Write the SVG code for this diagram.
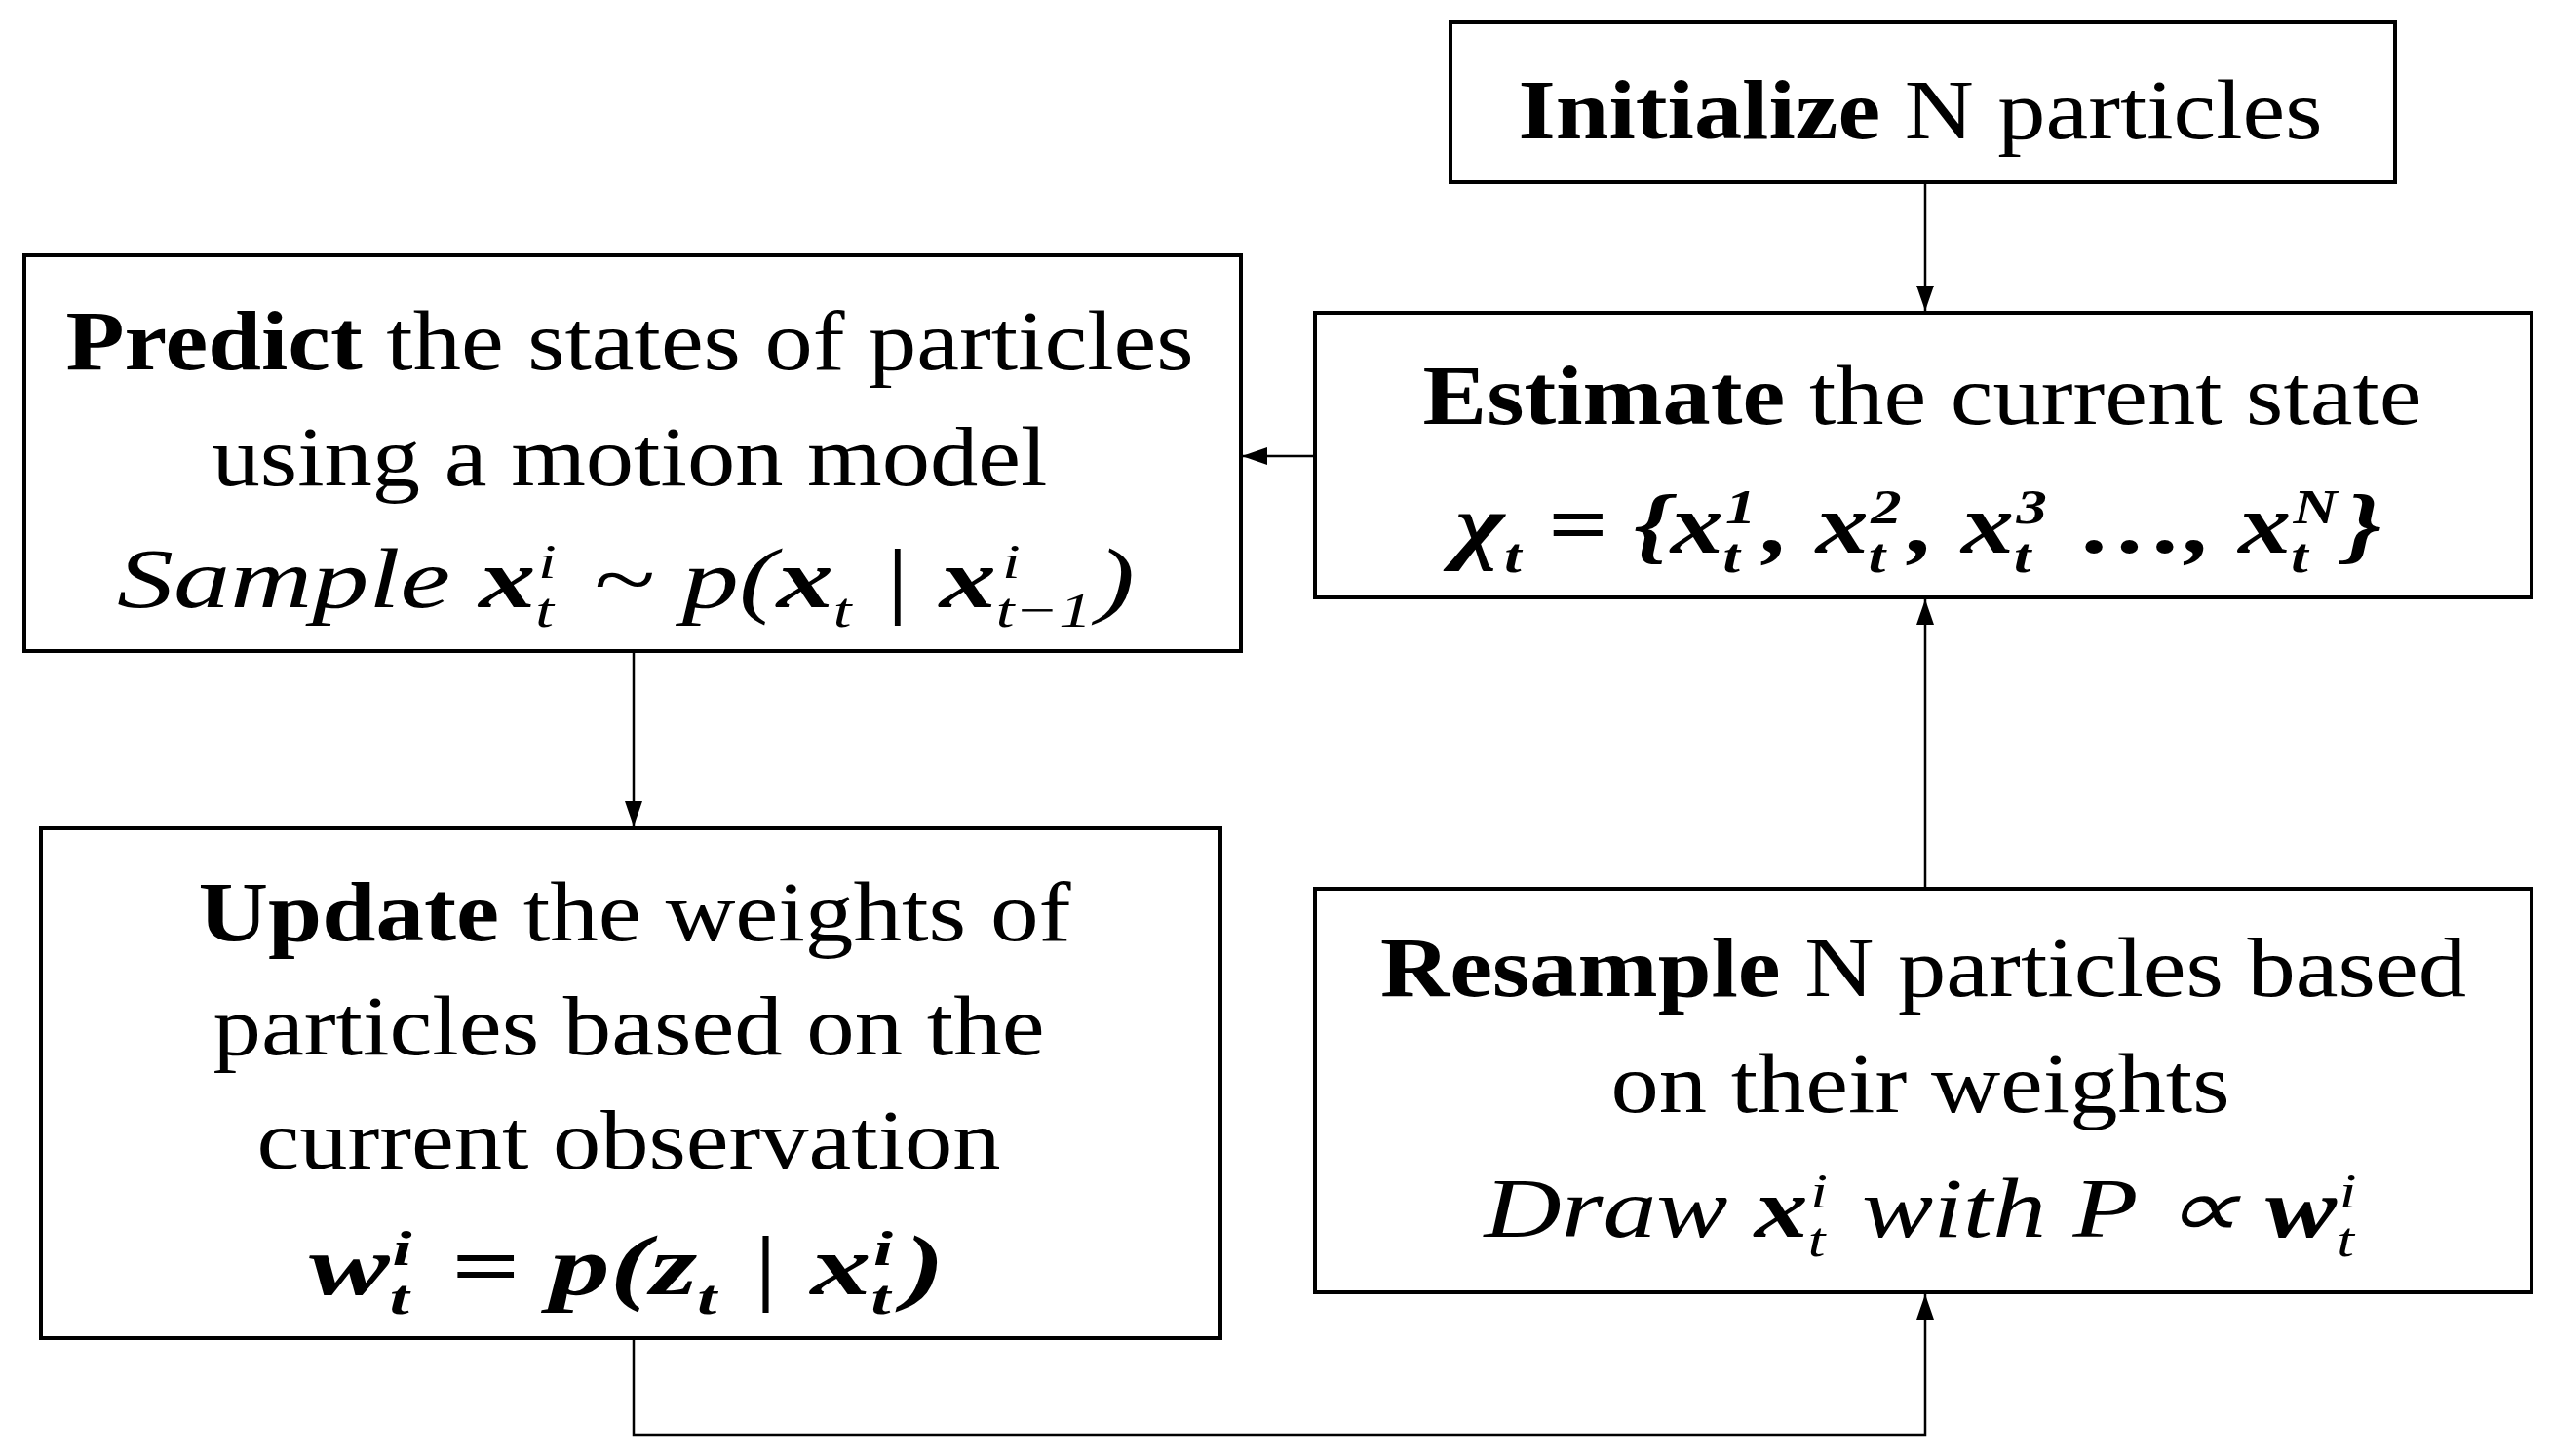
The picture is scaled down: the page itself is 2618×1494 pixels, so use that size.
<svg xmlns="http://www.w3.org/2000/svg" width="2618" height="1494" viewBox="0 0 2618 1494">
<style>
.box{fill:#fff;stroke:#000;stroke-width:4}
.t{font-family:"Liberation Serif",serif;font-size:86px;fill:#000;text-anchor:middle}
.b{font-weight:bold}
.m{font-style:italic}
.mb{font-style:italic;font-weight:bold}
.s{font-size:50px}
.c{fill:none;stroke:#000;stroke-width:2.5}
</style>
<defs>
<marker id="ah" markerWidth="26" markerHeight="26" refX="26" refY="13" orient="auto" markerUnits="userSpaceOnUse" viewBox="0 0 26 26"><path d="M0,4L26,13L0,22z" fill="#000"/></marker></defs>
<g id="connectors">
<line class="c" x1="1975" y1="187" x2="1975" y2="319" marker-end="url(#ah)"/>
<line class="c" x1="1349" y1="468" x2="1274" y2="468" marker-end="url(#ah)"/>
<line class="c" x1="650" y1="668" x2="650" y2="848" marker-end="url(#ah)"/>
<polyline class="c" points="650,1373 650,1472 1975,1472 1975,1328" marker-end="url(#ah)"/>
<line class="c" x1="1975" y1="912" x2="1975" y2="615" marker-end="url(#ah)"/>
</g>
<g id="initialize"><rect class="box" x="1488" y="23" width="969" height="164"/>
<text class="t" x="1970" y="142" textLength="825" lengthAdjust="spacingAndGlyphs"><tspan class="b">Initialize</tspan> N particles</text></g>
<g id="estimate"><rect class="box" x="1349" y="321" width="1248" height="292"/>
<text class="t" x="1972" y="435" textLength="1025" lengthAdjust="spacingAndGlyphs"><tspan class="b">Estimate</tspan> the current state</text>
<text class="t mb" x="1968" y="567" textLength="950" lengthAdjust="spacingAndGlyphs">χ<tspan class="s" dy="20">t</tspan><tspan dy="-20"> = {x</tspan><tspan class="s" dy="20">t</tspan><tspan class="s" dx="-12" dy="-50">1</tspan><tspan dx="6" dy="30">, x</tspan><tspan class="s" dy="20">t</tspan><tspan class="s" dx="-12" dy="-50">2</tspan><tspan dx="6" dy="30">, x</tspan><tspan class="s" dy="20">t</tspan><tspan class="s" dx="-12" dy="-50">3</tspan><tspan dx="6" dy="30"> …, x</tspan><tspan class="s" dy="20">t</tspan><tspan class="s" dx="-12" dy="-50">N</tspan><tspan dx="6" dy="30">}</tspan></text></g>
<g id="predict"><rect class="box" x="25" y="262" width="1248" height="406"/>
<text class="t" x="646" y="379" textLength="1157" lengthAdjust="spacingAndGlyphs"><tspan class="b">Predict</tspan> the states of particles</text>
<text class="t" x="646" y="498" textLength="857" lengthAdjust="spacingAndGlyphs">using a motion model</text>
<text class="t m" x="642" y="623" textLength="1044" lengthAdjust="spacingAndGlyphs">Sample <tspan class="mb">x</tspan><tspan class="s" dy="20">t</tspan><tspan class="s" dx="-12" dy="-50">i</tspan><tspan dx="6" dy="30"> ~ p(</tspan><tspan class="mb">x</tspan><tspan class="s" dy="20">t</tspan><tspan dy="-20"> | </tspan><tspan class="mb">x</tspan><tspan class="s" dy="20">t−1</tspan><tspan class="s" dx="-68" dy="-50">i</tspan><tspan dx="58" dy="30">)</tspan></text></g>
<g id="update"><rect class="box" x="42" y="850" width="1210" height="523"/>
<text class="t" x="651" y="965" textLength="895" lengthAdjust="spacingAndGlyphs"><tspan class="b">Update</tspan> the weights of</text>
<text class="t" x="645" y="1082" textLength="853" lengthAdjust="spacingAndGlyphs">particles based on the</text>
<text class="t" x="645" y="1199" textLength="763" lengthAdjust="spacingAndGlyphs">current observation</text>
<text class="t mb" x="643" y="1328" textLength="652" lengthAdjust="spacingAndGlyphs">w<tspan class="s" dy="20">t</tspan><tspan class="s" dx="-12" dy="-50">i</tspan><tspan dx="6" dy="30"> =  p(z</tspan><tspan class="s" dy="20">t</tspan><tspan dy="-20" font-weight="normal"> | </tspan>x<tspan class="s" dy="20">t</tspan><tspan class="s" dx="-12" dy="-50">i</tspan><tspan dx="8" dy="30">)</tspan></text></g>
<g id="resample"><rect class="box" x="1349" y="912" width="1248" height="414"/>
<text class="t" x="1973" y="1022" textLength="1114" lengthAdjust="spacingAndGlyphs"><tspan class="b">Resample</tspan> N particles based</text>
<text class="t" x="1970" y="1141" textLength="635" lengthAdjust="spacingAndGlyphs">on their weights</text>
<text class="t m" x="1970" y="1269" textLength="895" lengthAdjust="spacingAndGlyphs">Draw <tspan class="mb">x</tspan><tspan class="s" dy="20">t</tspan><tspan class="s" dx="-12" dy="-50">i</tspan><tspan dx="6" dy="30"> with P ∝ </tspan><tspan class="mb">w</tspan><tspan class="s" dy="20">t</tspan><tspan class="s" dx="-12" dy="-50">i</tspan></text></g>
</svg>
